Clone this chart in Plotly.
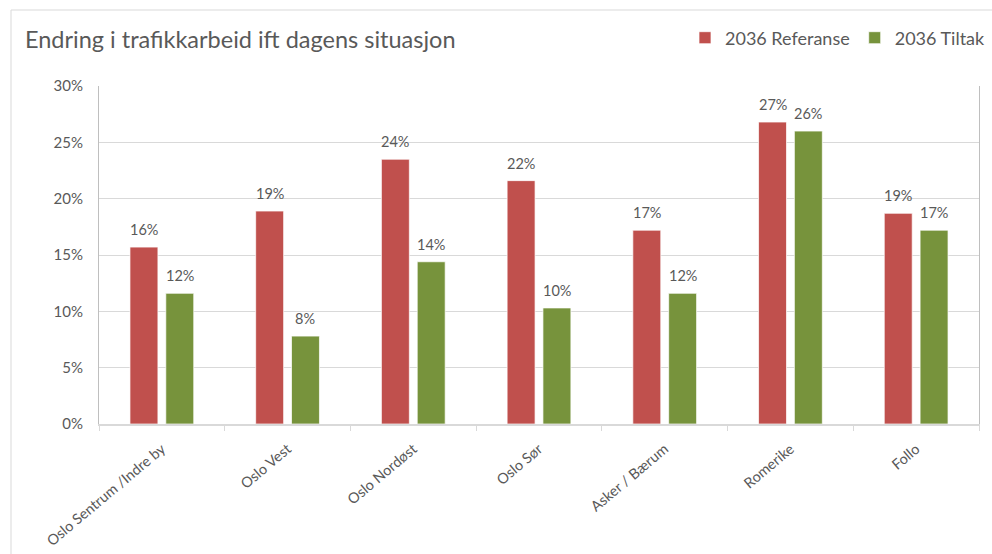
import plotly.graph_objects as go

# Regions and change in traffic work (vehicle-km) relative to today
regions = ["Oslo Sentrum /Indre by", "Oslo Vest", "Oslo Nordøst", "Oslo Sør",
           "Asker / Bærum", "Romerike", "Follo"]
referanse_2036 = [0.157, 0.189, 0.235, 0.216, 0.172, 0.268, 0.187]
tiltak_2036 = [0.116, 0.078, 0.144, 0.103, 0.116, 0.260, 0.172]
y_ticks = [0, 0.05, 0.10, 0.15, 0.20, 0.25, 0.30]

RED = "#C0504D"
GREEN = "#77933C"
TEXT = "#595959"
FONT = "Lato, 'Open Sans', sans-serif"

W, H = 992, 554
ML, MR, MT, MB = 99, 13, 86, 130
BARGAP = 0.43
BARGROUPGAP = 0.22

fig = go.Figure()
series = [("2036 Referanse", referanse_2036, RED),
          ("2036 Tiltak", tiltak_2036, GREEN)]
for name, vals, col in series:
    fig.add_trace(go.Bar(
        x=regions, y=vals, name=name,
        marker=dict(color=col, line=dict(color="rgba(255,255,255,0.7)", width=1)),
    ))

# value labels above each bar, offset to the bar's slot within its group
cat_px = (W - ML - MR) / len(regions)
slot_px = cat_px * (1 - BARGAP) / len(series)
for i, (name, vals, col) in enumerate(series):
    shift = (i - (len(series) - 1) / 2) * slot_px
    for reg, v in zip(regions, vals):
        fig.add_annotation(
            x=reg, y=v, xref="x", yref="y", text=f"{v:.0%}",
            showarrow=False, xshift=shift, yshift=7, yanchor="bottom",
            font=dict(size=14.5, color=TEXT, family=FONT),
        )

fig.update_layout(
    width=W, height=H,
    margin=dict(l=ML, r=MR, t=MT, b=MB, autoexpand=False),
    paper_bgcolor="white", plot_bgcolor="white",
    barmode="group", bargap=BARGAP, bargroupgap=BARGROUPGAP,
    font=dict(family=FONT, color=TEXT),
    title=dict(text="Endring i trafikkarbeid ift dagens situasjon",
               x=25 / W, xanchor="left", y=1 - 40 / H, yanchor="middle",
               font=dict(size=23.5, color=TEXT, family=FONT)),
    legend=dict(orientation="h", x=1 + 12 / (W - ML - MR), xanchor="right",
                y=1 + (MT - 38) / (H - MT - MB), yanchor="middle",
                font=dict(size=18, color=TEXT, family=FONT),
                itemwidth=30, traceorder="normal", bgcolor="rgba(0,0,0,0)"),
    showlegend=True,
)

fig.update_yaxes(
    range=[0, 0.30], tickvals=y_ticks, tickformat=".0%",
    showgrid=True, gridcolor="#D9D9D9", gridwidth=1,
    showline=True, linecolor="#BFBFBF", linewidth=1, mirror=True,
    ticks="", zeroline=False, ticklabelstandoff=12, automargin=False,
    tickfont=dict(size=15, color=TEXT, family=FONT),
)
fig.update_xaxes(
    showline=True, linecolor="#D9D9D9", linewidth=2,
    ticks="outside", tickson="boundaries", ticklen=5, tickcolor="#D9D9D9",
    tickangle=-40, automargin=False, ticklabelstandoff=9,
    tickfont=dict(size=14.5, color=TEXT, family=FONT),
)

# chart frame around the whole chart area
fig.add_shape(type="rect", xref="paper", yref="paper",
              x0=-0.1, x1=1.3, y0=-0.6, y1=1 + (MT - 10) / (H - MT - MB),
              line=dict(color="#D9D9D9", width=1), fillcolor="rgba(0,0,0,0)",
              layer="below")

fig.write_html("out.html")
